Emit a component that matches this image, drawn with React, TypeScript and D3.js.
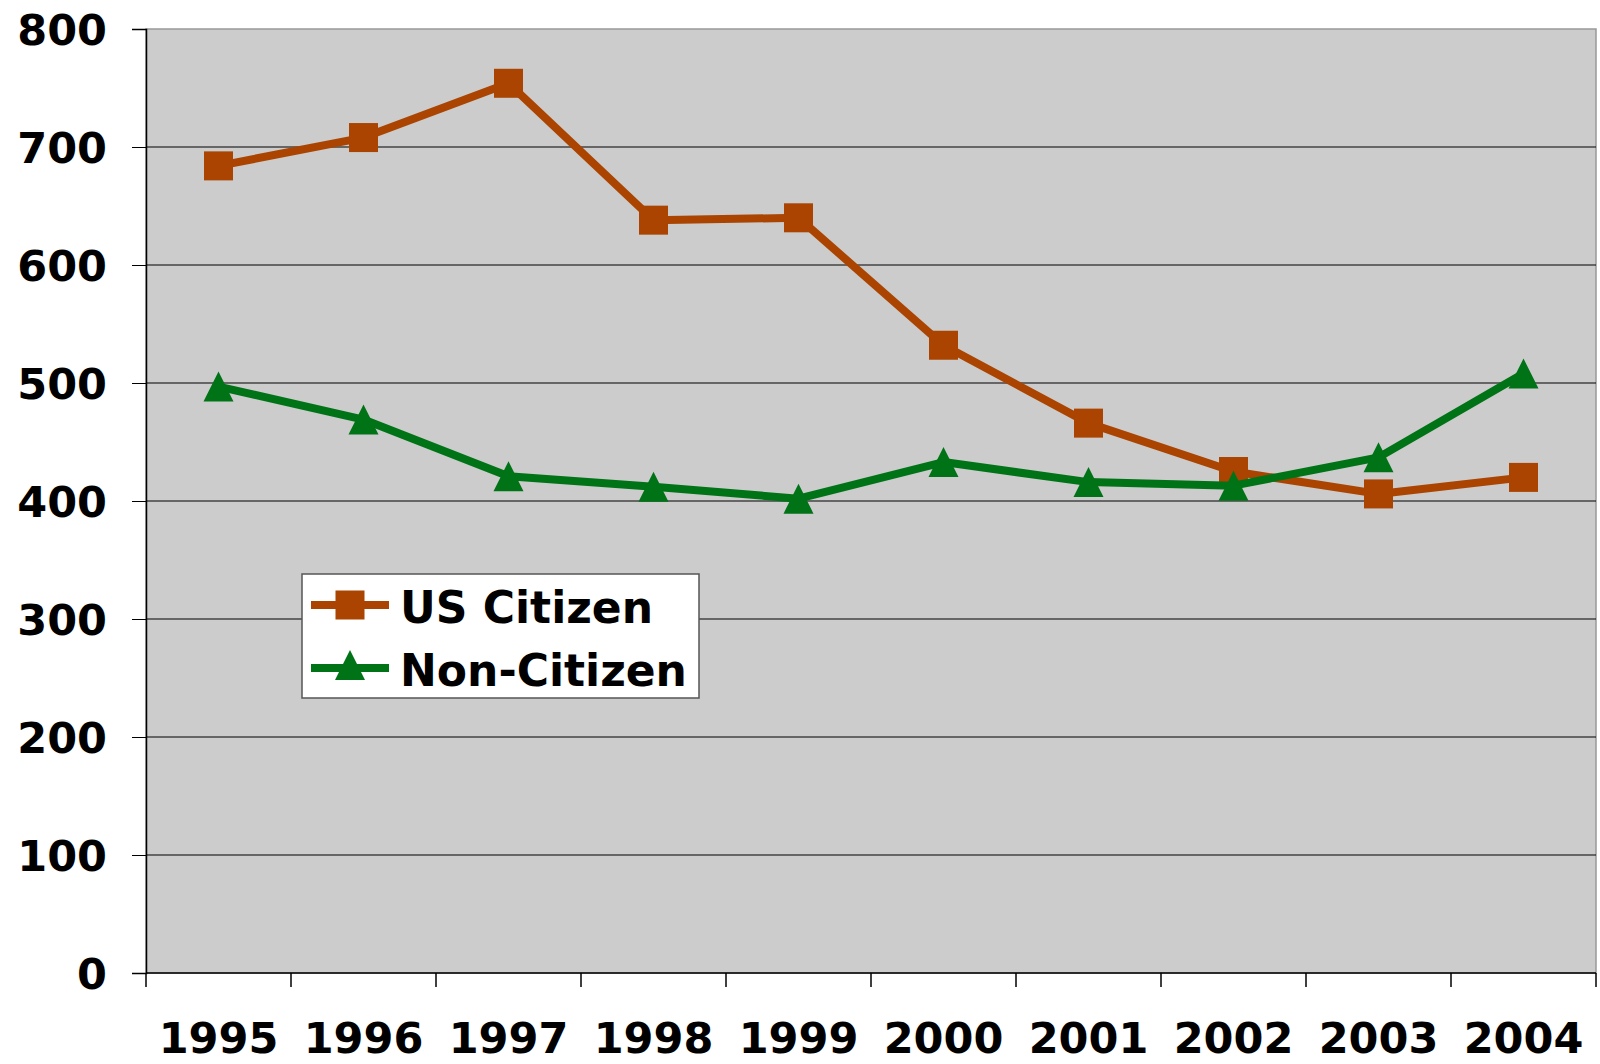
import React, { useRef, useEffect } from 'react';
import * as d3 from 'd3';

const years = ['1995', '1996', '1997', '1998', '1999', '2000', '2001', '2002', '2003', '2004'];
const usCitizen = [684, 708, 754, 638, 640, 532, 466, 425, 406, 420];
const nonCitizen = [497, 469, 421, 412, 402, 433, 416, 413, 437, 508];
const yTicks = [0, 100, 200, 300, 400, 500, 600, 700, 800];

const ORANGE = '#AA4400';
const GREEN = '#007317';
const FONT = '"DejaVu Sans", Verdana, sans-serif';

// triangle 30 wide, 30 tall, centred on its point
const TRI = 'M0,-15L15,15L-15,15Z';

const App: React.FC = () => {
  const svgRef = useRef<SVGSVGElement | null>(null);

  useEffect(() => {
    const svg = d3.select(svgRef.current);
    svg.selectAll('*').remove();

    const left = 146, right = 1596, top = 29, bottom = 973;

    const x = d3.scaleBand().domain(years).range([left, right]);
    const y = d3.scaleLinear().domain([0, 800]).range([bottom, top]);

    // plot background
    svg.append('rect')
      .attr('x', left).attr('y', top)
      .attr('width', right - left).attr('height', bottom - top)
      .attr('fill', '#cccccc')
      .attr('stroke', '#999999')
      .attr('stroke-width', 1.5);

    // gridlines
    svg.append('g')
      .selectAll('line')
      .data(yTicks.filter(d => d > 0 && d < 800))
      .enter()
      .append('line')
      .attr('x1', left).attr('x2', right)
      .attr('y1', d => y(d)).attr('y2', d => y(d))
      .attr('stroke', '#000').attr('stroke-width', 1);

    // y axis
    const yAxis = svg.append('g')
      .attr('transform', `translate(${left},0)`)
      .call(d3.axisLeft(y).tickValues(yTicks).tickSize(14).tickPadding(25));
    yAxis.select('.domain').attr('stroke', '#000').attr('stroke-width', 1.5);
    yAxis.selectAll('text')
      .attr('font-family', FONT).attr('font-weight', 'bold')
      .attr('font-size', 43).attr('fill', '#000')
      .attr('dy', '0.36em');

    // x axis
    const xAxis = svg.append('g')
      .attr('transform', `translate(0,${bottom})`)
      .call(d3.axisBottom(x).tickSize(0).tickPadding(0));
    xAxis.select('.domain').remove();
    xAxis.selectAll('text')
      .attr('font-family', FONT).attr('font-weight', 'bold')
      .attr('font-size', 43).attr('fill', '#000')
      .attr('y', 80).attr('dy', 0);
    svg.append('line')
      .attr('x1', left).attr('x2', right)
      .attr('y1', bottom).attr('y2', bottom)
      .attr('stroke', '#000').attr('stroke-width', 1.5);
    svg.append('g')
      .selectAll('line')
      .data(d3.range(years.length + 1))
      .enter()
      .append('line')
      .attr('x1', i => left + i * x.bandwidth()).attr('x2', i => left + i * x.bandwidth())
      .attr('y1', bottom).attr('y2', bottom + 14)
      .attr('stroke', '#000').attr('stroke-width', 1.5);

    const cx = (i: number) => (x(years[i]) || 0) + x.bandwidth() / 2;
    const line = d3.line<number>().x((d, i) => cx(i)).y(d => y(d));

    // US Citizen
    svg.append('path')
      .attr('d', line(usCitizen))
      .attr('fill', 'none').attr('stroke', ORANGE)
      .attr('stroke-width', 8).attr('stroke-linejoin', 'round');
    svg.append('g')
      .selectAll('rect')
      .data(usCitizen)
      .enter()
      .append('rect')
      .attr('x', (d, i) => cx(i) - 14.5).attr('y', d => y(d) - 14.5)
      .attr('width', 29).attr('height', 29)
      .attr('fill', ORANGE);

    // Non-Citizen
    svg.append('path')
      .attr('d', line(nonCitizen))
      .attr('fill', 'none').attr('stroke', GREEN)
      .attr('stroke-width', 8).attr('stroke-linejoin', 'round');
    svg.append('g')
      .selectAll('path')
      .data(nonCitizen)
      .enter()
      .append('path')
      .attr('d', TRI)
      .attr('transform', (d, i) => `translate(${cx(i)},${y(d)})`)
      .attr('fill', GREEN);

    // legend
    const lg = svg.append('g');
    lg.append('rect')
      .attr('x', 302).attr('y', 574).attr('width', 397).attr('height', 124)
      .attr('fill', '#fff').attr('stroke', '#555').attr('stroke-width', 1.5);
    const items = [
      { name: 'US Citizen', color: ORANGE, cy: 605, shape: 'square' },
      { name: 'Non-Citizen', color: GREEN, cy: 668, shape: 'triangle' },
    ];
    items.forEach(it => {
      lg.append('line')
        .attr('x1', 311).attr('x2', 389)
        .attr('y1', it.cy).attr('y2', it.cy)
        .attr('stroke', it.color).attr('stroke-width', 8);
      if (it.shape === 'square') {
        lg.append('rect')
          .attr('x', 350 - 14.5).attr('y', it.cy - 14.5)
          .attr('width', 29).attr('height', 29).attr('fill', it.color);
      } else {
        lg.append('path')
          .attr('d', TRI)
          .attr('transform', `translate(350,${it.cy - 3})`)
          .attr('fill', it.color);
      }
      lg.append('text')
        .attr('x', 400).attr('y', it.cy + 18)
        .attr('font-family', FONT).attr('font-weight', 'bold')
        .attr('font-size', 44).attr('fill', '#000')
        .text(it.name);
    });
  }, []);

  return (
    <svg
      ref={svgRef}
      width={1600}
      height={1064}
      style={{ position: 'absolute', left: 0, top: 0, background: '#fff' }}
    ></svg>
  );
};

export default App;
